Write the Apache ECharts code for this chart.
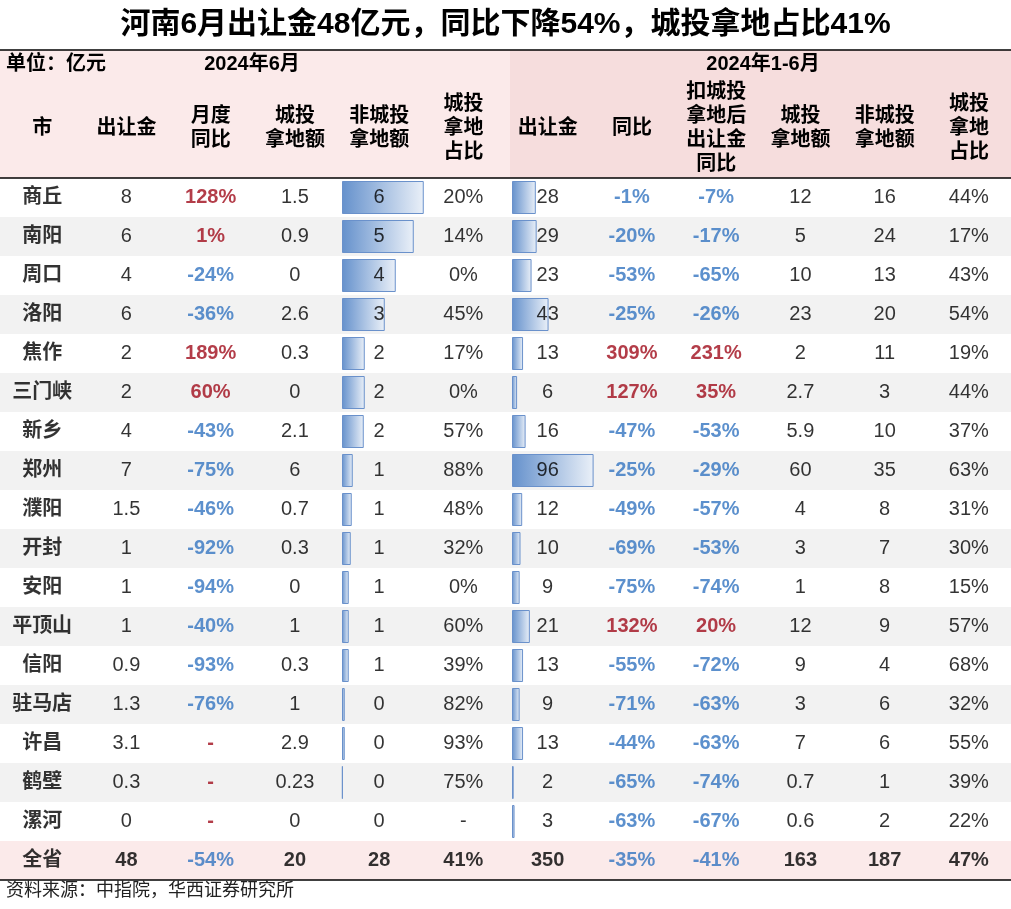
<!DOCTYPE html>
<html>
<head>
<meta charset="utf-8">
<script src="https://cdn.jsdelivr.net/npm/echarts@6/dist/echarts.min.js"></script>
<style>
html, body { margin: 0; padding: 0; background: #fff; }
#main { width: 1011px; height: 909px; }
</style>
</head>
<body>
<div id="main"></div>
<script>
// 表头
const headers = ['市', '出让金', '月度\n同比', '城投\n拿地额', '非城投\n拿地额', '城投\n拿地\n占比',
    '出让金', '同比', '扣城投\n拿地后\n出让金\n同比', '城投\n拿地额', '非城投\n拿地额', '城投\n拿地\n占比']
const cities = ['商丘', '南阳', '周口', '洛阳', '焦作', '三门峡', '新乡', '郑州', '濮阳', '开封', '安阳', '平顶山', '信阳', '驻马店', '许昌', '鹤壁', '漯河']

// 2024年6月
const junSale = [8, 6, 4, 6, 2, 2, 4, 7, 1.5, 1, 1, 1, 0.9, 1.3, 3.1, 0.3, 0]
const junYoY = [128, 1, -24, -36, 189, 60, -43, -75, -46, -92, -94, -40, -93, -76, null, null, null]
const junLgfv = [1.5, 0.9, 0, 2.6, 0.3, 0, 2.1, 6, 0.7, 0.3, 0, 1, 0.3, 1, 2.9, 0.23, 0]
const junNonLgfv = [6, 5, 4, 3, 2, 2, 2, 1, 1, 1, 1, 1, 1, 0, 0, 0, 0]
// 数据条长度（按图中条长估计）
const junNonLgfvBar = [6.54, 5.74, 4.3, 3.42, 1.82, 1.82, 1.74, 0.86, 0.78, 0.7, 0.54, 0.54, 0.54, 0.22, 0.22, 0.06, 0]
const junLgfvShare = [20, 14, 0, 45, 17, 0, 57, 88, 48, 32, 0, 60, 39, 82, 93, 75, null]

// 2024年1-6月
const h1Sale = [28, 29, 23, 43, 13, 6, 16, 96, 12, 10, 9, 21, 13, 9, 13, 2, 3]
const h1YoY = [-1, -20, -53, -25, 309, 127, -47, -25, -49, -69, -75, 132, -55, -71, -44, -65, -63]
const h1YoYExLgfv = [-7, -17, -65, -26, 231, 35, -53, -29, -57, -53, -74, 20, -72, -63, -63, -74, -67]
const h1Lgfv = [12, 5, 10, 23, 2, 2.7, 5.9, 60, 4, 3, 1, 12, 9, 3, 7, 0.7, 0.6]
const h1NonLgfv = [16, 24, 13, 20, 11, 3, 10, 35, 8, 7, 8, 9, 4, 6, 6, 1, 2]
const h1LgfvShare = [44, 17, 43, 54, 19, 44, 37, 63, 31, 30, 15, 57, 68, 32, 55, 39, 22]

// 全省合计
const totalRow = ['全省', 48, -54, 20, 28, 41, 350, -35, -41, 163, 187, 47]

const columns = [
    [cities, 'city'], [junSale, 'num'], [junYoY, 'yoy'], [junLgfv, 'num'], [junNonLgfv, 'num'], [junLgfvShare, 'pct'],
    [h1Sale, 'num'], [h1YoY, 'yoy'], [h1YoYExLgfv, 'yoy'], [h1Lgfv, 'num'], [h1NonLgfv, 'num'], [h1LgfvShare, 'pct']
]

const FONT = '"Liberation Sans", Arial, "Noto Sans CJK SC", sans-serif'
const RED = '#a00c1c'
const BLUE = '#3374c0'
const ROW_H = 39
const TOP = 178

function cellLabel(kind, v, bold) {
    let text = String(v)
    let color = '#000'
    let weight = bold ? 'bold' : 'normal'
    if (kind === 'city') {
        weight = 'bold'
    } else if (kind === 'yoy') {
        text = v == null ? '-' : v + '%'
        color = (v == null || v > 0) ? RED : BLUE
        weight = 'bold'
    } else if (kind === 'pct') {
        text = v == null ? '-' : v + '%'
    }
    return {
        show: true,
        position: 'inside',
        formatter: () => text,
        color: color,
        fontWeight: weight,
        fontSize: 20,
        fontFamily: FONT
    }
}

const series = []
columns.forEach(([arr, kind], c) => {
    series.push({
        type: 'scatter',
        xAxisIndex: 0,
        yAxisIndex: 0,
        symbolSize: 0,
        silent: true,
        z: 5,
        data: arr.map((v, i) => ({ value: [c, i], label: cellLabel(kind, v, false) }))
    })
})
series.push({
    type: 'scatter',
    xAxisIndex: 1,
    yAxisIndex: 1,
    symbolSize: 0,
    silent: true,
    z: 5,
    data: totalRow.map((v, c) => ({ value: [c, 0], label: cellLabel(columns[c][1], v, true) }))
})

const barStyle = {
    color: new echarts.graphic.LinearGradient(0, 0, 1, 0, [
        { offset: 0, color: '#6591cc' },
        { offset: 1, color: '#eaf0f8' }
    ]),
    borderColor: '#6a91cb',
    borderWidth: 1
}
// 0 值不画数据条
const noZero = arr => arr.map(v => (v > 0 ? v : null))
series.push({ type: 'bar', xAxisIndex: 2, yAxisIndex: 2, data: noZero(junNonLgfvBar), barWidth: 33, itemStyle: barStyle, silent: true, z: 2 })
series.push({ type: 'bar', xAxisIndex: 3, yAxisIndex: 3, data: noZero(h1Sale), barWidth: 33, itemStyle: barStyle, silent: true, z: 2 })

const bodyH = cities.length * ROW_H
const hidden = { show: false }

const chart = echarts.init(document.getElementById('main'))
chart.setOption({
    animation: false,
    backgroundColor: '#fff',
    title: [
        {
            text: '河南6月出让金48亿元，同比下降54%，城投拿地占比41%',
            left: 'center',
            top: 10,
            padding: 0,
            textStyle: { fontSize: 30, fontWeight: 'bold', color: '#000', fontFamily: FONT }
        },
        {
            text: '资料来源：中指院，华西证券研究所',
            left: 6,
            top: 882,
            padding: 0,
            textStyle: { fontSize: 18, fontWeight: 'normal', color: '#222', fontFamily: FONT }
        }
    ],
    graphic: [
        { type: 'rect', z: -10, shape: { x: 0, y: 50, width: 510, height: TOP - 50 }, style: { fill: '#fbeaea' } },
        { type: 'rect', z: -10, shape: { x: 510, y: 50, width: 501, height: TOP - 50 }, style: { fill: '#f6dddd' } },
        { type: 'line', z: 10, shape: { x1: 0, y1: 50, x2: 1011, y2: 50 }, style: { stroke: '#000', lineWidth: 1.5 } },
        { type: 'text', z: 10, x: 6, y: 64, style: { text: '单位：亿元', fill: '#000', font: 'bold 20px ' + FONT, textVerticalAlign: 'middle' } },
        { type: 'text', z: 10, x: 252, y: 64, style: { text: '2024年6月', fill: '#000', font: 'bold 20px ' + FONT, textAlign: 'center', textVerticalAlign: 'middle' } },
        { type: 'text', z: 10, x: 763, y: 64, style: { text: '2024年1-6月', fill: '#000', font: 'bold 20px ' + FONT, textAlign: 'center', textVerticalAlign: 'middle' } }
    ],
    grid: [
        { left: 0, right: -9, top: TOP, height: bodyH },
        { left: 0, right: -9, top: TOP + bodyH, height: ROW_H, show: true, backgroundColor: '#fbeaea', borderWidth: 0 },
        { left: 342, width: 85, top: TOP, height: bodyH },
        { left: 512, width: 85, top: TOP, height: bodyH }
    ],
    xAxis: [
        {
            gridIndex: 0,
            type: 'category',
            position: 'top',
            data: headers,
            axisLine: { show: true, lineStyle: { color: '#000', width: 1.5 } },
            axisTick: hidden,
            axisLabel: {
                interval: 0,
                margin: 50,
                verticalAlign: 'middle',
                lineHeight: 24,
                fontSize: 20,
                fontWeight: 'bold',
                color: '#000',
                fontFamily: FONT
            },
            splitLine: hidden
        },
        {
            gridIndex: 1,
            type: 'category',
            position: 'bottom',
            data: headers,
            axisLine: { show: true, lineStyle: { color: '#000', width: 1.5 } },
            axisTick: hidden,
            axisLabel: hidden,
            splitLine: hidden
        },
        { gridIndex: 2, type: 'value', min: 0, max: 6.8, show: false },
        { gridIndex: 3, type: 'value', min: 0, max: 100, show: false }
    ],
    yAxis: [
        {
            gridIndex: 0,
            type: 'category',
            inverse: true,
            data: cities,
            axisLine: hidden,
            axisTick: { show: false, interval: 0 },
            axisLabel: hidden,
            splitLine: hidden,
            splitArea: { show: true, interval: 0, areaStyle: { color: ['#ffffff', '#f2f2f2'] } }
        },
        { gridIndex: 1, type: 'category', data: ['全省'], show: false },
        { gridIndex: 2, type: 'category', inverse: true, data: cities, show: false },
        { gridIndex: 3, type: 'category', inverse: true, data: cities, show: false }
    ],
    series: series
})
</script>
</body>
</html>
